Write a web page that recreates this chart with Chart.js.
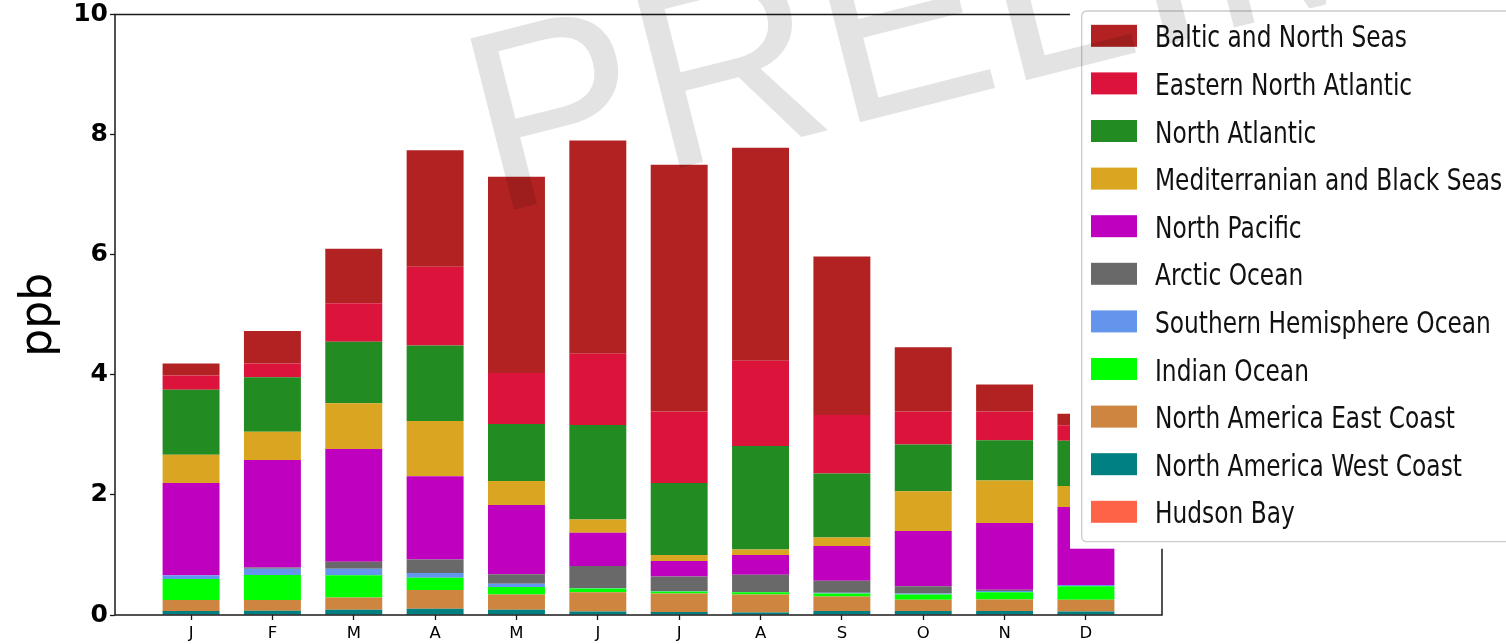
<!DOCTYPE html>
<html>
<head>
<meta charset="utf-8">
<title>Monthly contributions by source region (ppb)</title>
<script src="https://cdn.jsdelivr.net/npm/chart.js@4/dist/chart.umd.min.js"></script>
<style>
  html, body { margin: 0; padding: 0; background: #ffffff; }
  canvas { display: block; }
</style>
</head>
<body>
<canvas id="chart" width="1506" height="644"></canvas>
<script>
// Month initials along the x axis
const months = ['J', 'F', 'M', 'A', 'M', 'J', 'J', 'A', 'S', 'O', 'N', 'D'];
// y-axis tick values (ppb)
const yTicks = [0, 2, 4, 6, 8, 10];

// Monthly contribution per source region (ppb), listed from the bottom of the stack upwards
const hudsonBay          = [0, 0, 0, 0, 0, 0, 0, 0, 0, 0, 0, 0];
const naWestCoast        = [0.067, 0.072, 0.088, 0.105, 0.088, 0.060, 0.050, 0.040, 0.066, 0.066, 0.066, 0.060];
const naEastCoast        = [0.183, 0.178, 0.202, 0.311, 0.252, 0.320, 0.310, 0.300, 0.244, 0.189, 0.194, 0.195];
const indianOcean        = [0.350, 0.415, 0.370, 0.204, 0.126, 0.060, 0.030, 0.040, 0.050, 0.085, 0.120, 0.225];
const southernHemisphere = [0.060, 0.105, 0.110, 0.080, 0.054, 0.010, 0.010, 0.005, 0.010, 0.020, 0.020, 0.020];
const arcticOcean        = [0.000, 0.020, 0.116, 0.226, 0.157, 0.365, 0.240, 0.285, 0.200, 0.120, 0.020, 0.000];
const northPacific       = [1.540, 1.790, 1.879, 1.384, 1.153, 0.555, 0.260, 0.330, 0.580, 0.920, 1.110, 1.300];
const medBlackSeas       = [0.470, 0.470, 0.760, 0.920, 0.400, 0.220, 0.100, 0.090, 0.140, 0.660, 0.710, 0.350];
const northAtlantic      = [1.080, 0.910, 1.025, 1.260, 0.950, 1.575, 1.200, 1.725, 1.065, 0.780, 0.670, 0.750];
const easternNAtlantic   = [0.240, 0.230, 0.640, 1.310, 0.850, 1.185, 1.190, 1.420, 0.975, 0.550, 0.480, 0.260];
const balticNorthSeas    = [0.200, 0.540, 0.910, 1.940, 3.270, 3.550, 4.110, 3.545, 2.640, 1.070, 0.450, 0.190];

// Region names and fill colours, bottom of the stack first
const regionNames = [
  'Hudson Bay', 'North America West Coast', 'North America East Coast', 'Indian Ocean',
  'Southern Hemisphere Ocean', 'Arctic Ocean', 'North Pacific', 'Mediterranian and Black Seas',
  'North Atlantic', 'Eastern North Atlantic', 'Baltic and North Seas'
];
const regionColors = [
  '#FF6347', '#008080', '#CD853F', '#00FF00',
  '#6495ED', '#696969', '#BF00BF', '#DAA520',
  '#228B22', '#DC143C', '#B22222'
];
const regionValues = [
  hudsonBay, naWestCoast, naEastCoast, indianOcean,
  southernHemisphere, arcticOcean, northPacific, medBlackSeas,
  northAtlantic, easternNAtlantic, balticNorthSeas
];

const datasets = regionNames.map((name, k) => ({
  label: name,
  data: regionValues[k].map((v, i) => ({ x: i, y: v })),
  backgroundColor: regionColors[k],
  borderWidth: 0
}));

// Box around the plot, the legend panel and the draft watermark
const framePlugin = {
  id: 'frameLegendWatermark',
  afterDatasetsDraw(chart) {
    const { ctx, chartArea: a } = chart;
    ctx.save();
    ctx.strokeStyle = '#1a1a1a';
    ctx.lineWidth = 1.5;
    ctx.strokeRect(a.left, a.top, a.right - a.left, a.bottom - a.top);
    ctx.restore();
  },
  afterDraw(chart) {
    const ctx = chart.ctx;
    const ds = chart.data.datasets;

    // legend panel
    ctx.save();
    ctx.fillStyle = '#ffffff';
    ctx.fillRect(1070, 0, 436, 548.7);
    ctx.strokeStyle = '#cccccc';
    ctx.lineWidth = 1.3;
    ctx.beginPath();
    ctx.roundRect(1081.7, 11, 460, 530.7, 5);
    ctx.fillStyle = '#ffffff';
    ctx.fill();
    ctx.stroke();

    const order = ds.slice().reverse();
    order.forEach((d, k) => {
      const cy = 35.8 + 47.6 * k;
      ctx.fillStyle = d.backgroundColor;
      ctx.fillRect(1091, cy - 11, 46, 22);
      ctx.save();
      ctx.translate(1155, cy + 11.5);
      ctx.scale(0.79, 1);
      ctx.fillStyle = '#111111';
      ctx.font = '29.5px "DejaVu Sans"';
      ctx.textBaseline = 'alphabetic';
      ctx.textAlign = 'left';
      ctx.fillText(d.label, 0, 0);
      ctx.restore();
    });
    ctx.restore();

    // watermark
    ctx.save();
    ctx.translate(493.4, 215);
    ctx.rotate(-14.2 * Math.PI / 180);
    ctx.font = '257px "Liberation Sans"';
    ctx.fillStyle = 'rgba(0,0,0,0.11)';
    ctx.textBaseline = 'alphabetic';
    ctx.textAlign = 'left';
    ctx.fillText('PRELIMINARY', 0, 0);
    ctx.restore();
  }
};

new Chart(document.getElementById('chart'), {
  type: 'bar',
  data: { datasets },
  options: {
    responsive: false,
    animation: false,
    devicePixelRatio: 1,
    layout: { padding: { left: 0, top: 13.6, right: 344, bottom: 0 } },
    datasets: { bar: { barPercentage: 0.7, categoryPercentage: 1.0 } },
    plugins: {
      legend: { display: false },
      tooltip: { enabled: false },
      title: { display: false }
    },
    scales: {
      x: {
        type: 'linear',
        stacked: true,
        min: -0.935,
        max: 11.935,
        offset: false,
        afterBuildTicks: (s) => { s.ticks = months.map((m, i) => ({ value: i })); },
        afterFit: (s) => { s.height = 29; },
        ticks: {
          autoSkip: false,
          maxRotation: 0,
          padding: 4,
          color: '#000000',
          font: { family: 'DejaVu Sans', size: 16.5 },
          callback: (v) => months[v]
        },
        grid: {
          display: true, offset: false, drawOnChartArea: false, drawTicks: true,
          tickLength: 5, tickColor: '#1a1a1a', tickWidth: 1.3
        },
        border: { display: false }
      },
      y: {
        stacked: true,
        min: 0,
        max: 10,
        afterBuildTicks: (s) => { s.ticks = yTicks.map((v) => ({ value: v })); },
        afterFit: (s) => { s.width = 115; },
        ticks: {
          padding: 2,
          color: '#000000',
          font: { family: 'DejaVu Sans', size: 25, weight: 'bold', lineHeight: 1 }
        },
        grid: {
          display: true, drawOnChartArea: false, drawTicks: true,
          tickLength: 5, tickColor: '#1a1a1a', tickWidth: 1.3
        },
        border: { display: false },
        title: {
          display: true,
          text: 'ppb',
          color: '#000000',
          font: { family: 'DejaVu Sans', size: 44, lineHeight: 1 },
          padding: { top: 18, bottom: 0 }
        }
      }
    }
  },
  plugins: [framePlugin]
});
</script>
</body>
</html>
